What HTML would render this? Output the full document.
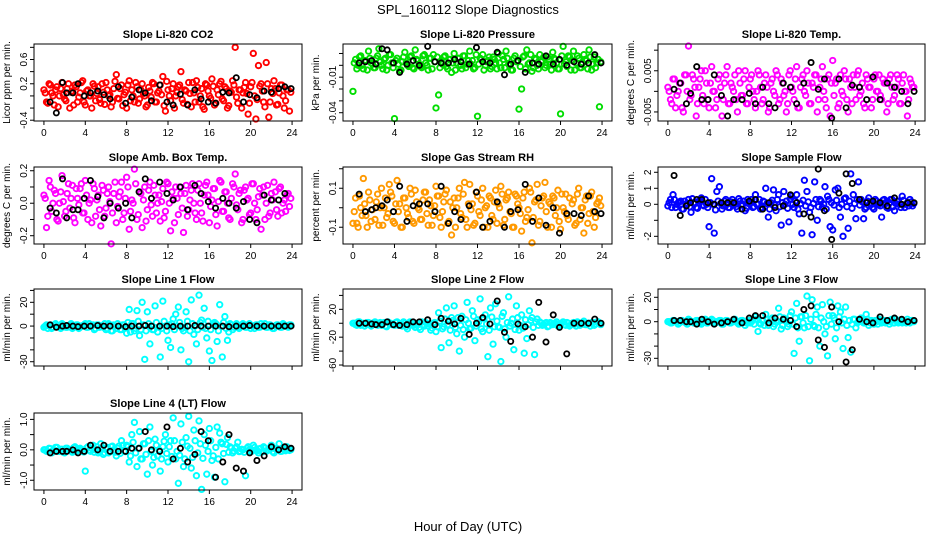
<!DOCTYPE html>
<html><head><meta charset="utf-8"><style>
html,body{margin:0;padding:0;background:#fff}
svg{display:block;font-family:"Liberation Sans",sans-serif}
</style></head><body>
<svg id="chart" width="936" height="540" viewBox="0 0 936 540">
<rect width="936" height="540" fill="#fff"/>
<text x="468" y="14" text-anchor="middle" font-size="13">SPL_160112  Slope Diagnostics</text>
<text x="468" y="531" text-anchor="middle" font-size="13">Hour of Day (UTC)</text>
</svg>
<script>
const hours=[0,0.25,0.5,0.75,1,1.25,1.5,1.75,2,2.25,2.5,2.75,3,3.25,3.5,3.75,4,4.25,4.5,4.75,5,5.25,5.5,5.75,6,6.25,6.5,6.75,7,7.25,7.5,7.75,8,8.25,8.5,8.75,9,9.25,9.5,9.75,10,10.25,10.5,10.75,11,11.25,11.5,11.75,12,12.25,12.5,12.75,13,13.25,13.5,13.75,14,14.25,14.5,14.75,15,15.25,15.5,15.75,16,16.25,16.5,16.75,17,17.25,17.5,17.75,18,18.25,18.5,18.75,19,19.25,19.5,19.75,20,20.25,20.5,20.75,21,21.25,21.5,21.75,22,22.25,22.5,22.75,23,23.25,23.5,23.75];
const hours2=[0.125,0.375,0.625,0.875,1.125,1.375,1.625,1.875,2.125,2.375,2.625,2.875,3.125,3.375,3.625,3.875,4.125,4.375,4.625,4.875,5.125,5.375,5.625,5.875,6.125,6.375,6.625,6.875,7.125,7.375,7.625,7.875,8.125,8.375,8.625,8.875,9.125,9.375,9.625,9.875,10.125,10.375,10.625,10.875,11.125,11.375,11.625,11.875,12.125,12.375,12.625,12.875,13.125,13.375,13.625,13.875,14.125,14.375,14.625,14.875,15.125,15.375,15.625,15.875,16.125,16.375,16.625,16.875,17.125,17.375,17.625,17.875,18.125,18.375,18.625,18.875,19.125,19.375,19.625,19.875,20.125,20.375,20.625,20.875,21.125,21.375,21.625,21.875,22.125,22.375,22.625,22.875,23.125,23.375,23.625,23.875];
const blackHours=[0.6,1.2,1.8,2.2,2.8,3.3,3.9,4.5,5.2,5.8,6.4,7.2,7.9,8.5,9.2,9.8,10.4,11.2,11.9,12.5,13.2,13.9,14.6,15.2,15.9,16.6,17.3,17.9,18.6,19.3,19.9,20.6,21.3,22.0,22.7,23.3,23.9];
const co2Vals=[0.1,-0.1,0.2,0.05,-0.15,0.15,0.0,0.22,-0.05,0.12,-0.2,0.08,0.18,-0.1,0.05,0.25,-0.15,0.1,0.0,0.2,-0.08,0.15,-0.12,0.06,0.22,0.0,-0.18,0.12,0.35,-0.05,0.18,0.02,-0.2,0.25,0.1,-0.1,0.15,-0.05,0.2,0.0,-0.15,0.08,0.22,-0.1,0.05,0.18,0.32,-0.25,0.1,-0.08,0.2,0.0,0.15,0.4,-0.12,0.08,0.22,-0.18,0.05,0.25,-0.1,0.12,-0.22,0.18,0.0,0.28,-0.15,0.1,0.2,-0.05,0.15,-0.2,0.08,0.25,0.8,-0.12,0.1,0.05,0.22,-0.3,0.15,0.7,-0.38,0.5,0.2,-0.1,0.55,-0.35,0.12,0.25,-0.15,0.05,0.18,-0.2,0.1,-0.25];
const co2Vals2=[0.05,-0.12,0.18,0.0,0.1,-0.18,0.12,0.02,-0.08,0.2,0.06,-0.15,0.15,-0.02,0.22,-0.1,0.08,0.0,-0.2,0.16,0.04,-0.06,0.2,-0.14,0.1,0.02,-0.1,0.24,-0.04,0.12,-0.16,0.06,0.18,-0.08,0.0,0.22,-0.12,0.1,0.04,-0.18,0.14,-0.02,0.2,-0.1,0.08,0.02,-0.16,0.24,0.0,0.12,-0.2,0.06,0.18,-0.06,0.1,-0.14,0.04,0.22,-0.1,0.14,0.0,-0.18,0.2,0.08,-0.04,0.16,-0.12,0.02,0.24,-0.08,0.12,-0.16,0.06,0.18,-0.02,0.1,-0.2,0.14,0.04,-0.12,0.22,0.0,-0.06,0.16,0.08,-0.18,0.2,-0.1,0.04,0.12,-0.14,0.18,0.0,-0.08,0.1,0.06];
const co2Black=[-0.1,-0.28,0.22,0.05,0.05,0.2,0.0,0.05,0.08,0.02,-0.05,0.15,-0.12,-0.02,0.1,0.05,-0.08,0.18,-0.1,-0.15,0.03,-0.15,0.1,-0.05,-0.1,-0.12,0.06,0.05,0.3,-0.1,0.02,-0.03,0.08,0.06,0.12,0.15,0.12];
const presVals=[-0.022,0.005,0.0,0.008,-0.003,0.004,0.012,0.002,-0.002,0.006,0.014,0.0,0.005,-0.004,0.009,0.002,-0.045,0.006,-0.005,0.003,0.011,0.0,0.007,-0.002,0.013,0.004,-0.001,0.008,0.002,-0.004,0.006,0.009,-0.036,-0.025,0.003,0.007,-0.001,0.005,-0.006,0.01,0.002,0.006,-0.003,0.008,0.001,0.012,0.004,-0.002,-0.043,0.006,0.009,0.0,0.004,-0.003,0.007,0.002,0.01,-0.002,0.005,0.012,0.001,-0.004,0.006,0.003,-0.037,-0.02,0.008,0.013,0.002,-0.005,0.006,0.0,0.009,0.004,-0.002,0.007,0.001,0.011,0.005,-0.003,-0.041,0.016,0.003,0.008,-0.004,0.012,0.002,0.006,-0.002,0.009,0.004,0.013,-0.004,0.007,0.002,-0.035];
const presVals2=[0.002,-0.003,0.007,0.0,0.004,-0.004,0.006,0.001,-0.002,0.008,0.003,-0.003,0.006,0.0,0.009,-0.002,0.004,0.001,-0.004,0.007,0.002,-0.001,0.008,-0.003,0.005,0.001,-0.002,0.009,0.0,0.006,-0.003,0.003,0.007,-0.002,0.001,0.008,-0.003,0.005,0.002,-0.004,0.006,0.0,0.008,-0.002,0.004,0.001,-0.003,0.009,0.001,0.005,-0.004,0.003,0.007,-0.001,0.005,-0.003,0.002,0.008,-0.002,0.006,0.0,-0.004,0.008,0.004,-0.001,0.007,-0.003,0.001,0.009,-0.002,0.005,-0.003,0.003,0.007,0.0,0.005,-0.004,0.006,0.002,-0.003,0.008,0.001,-0.001,0.007,0.004,-0.004,0.008,-0.002,0.002,0.005,-0.003,0.007,0.001,-0.002,0.005,0.003];
const presBlack=[0.002,0.003,0.004,0.001,0.014,0.013,0.002,-0.006,0.001,0.004,0.0,0.016,0.003,0.002,0.002,0.005,0.003,0.001,0.015,0.003,0.002,0.011,-0.008,0.001,0.004,-0.006,0.002,0.001,0.008,0.001,0.005,0.0,0.003,0.001,0.002,0.009,0.002];
const tempVals=[0.001,-0.002,0.003,-0.004,0.0,0.002,-0.005,0.004,0.011,-0.001,0.003,-0.006,0.001,0.005,-0.003,0.002,-0.004,0.006,0.0,-0.002,0.004,-0.006,0.002,0.006,-0.003,0.001,0.004,-0.005,0.002,-0.001,0.005,-0.003,0.003,0.0,-0.004,0.005,0.001,-0.002,0.004,-0.005,0.002,0.0,0.005,-0.003,0.003,-0.001,-0.005,0.004,0.001,-0.002,0.006,-0.004,0.003,0.0,0.005,-0.003,0.002,0.004,-0.005,0.001,0.006,-0.002,0.003,-0.006,0.0075,0.002,-0.004,0.004,-0.001,0.003,-0.005,0.001,0.004,-0.002,0.005,0.0,-0.003,0.004,0.001,-0.004,0.003,0.0,0.004,-0.002,0.002,-0.005,0.003,0.001,-0.001,0.004,-0.003,0.002,0.0,-0.006,0.003,0.001];
const tempVals2=[0.0,-0.003,0.003,-0.001,0.002,-0.004,0.004,0.0,-0.002,0.004,0.001,-0.003,0.003,-0.001,0.005,-0.002,0.002,0.0,-0.004,0.003,0.001,-0.002,0.004,-0.003,0.002,0.0,-0.002,0.005,-0.001,0.003,-0.003,0.001,0.004,-0.002,0.0,0.004,-0.003,0.002,0.001,-0.004,0.003,-0.001,0.004,-0.002,0.002,0.0,-0.003,0.005,0.0,0.003,-0.004,0.001,0.004,-0.001,0.002,-0.003,0.001,0.004,-0.002,0.003,0.0,-0.004,0.004,0.002,-0.001,0.003,-0.003,0.0,0.005,-0.002,0.003,-0.003,0.001,0.004,-0.001,0.002,-0.004,0.003,0.001,-0.002,0.004,0.0,-0.001,0.003,0.002,-0.003,0.004,-0.002,0.001,0.003,-0.003,0.004,0.0,-0.002,0.002,0.001];
const tempBlack=[0.0005,0.002,-0.003,-0.0005,0.006,-0.002,-0.002,0.004,-0.001,-0.006,-0.002,-0.002,-0.0005,-0.003,0.001,-0.003,-0.004,0.002,0.001,-0.003,0.002,0.007,0.0005,0.003,-0.0065,0.003,-0.004,0.0015,0.001,-0.002,0.0035,-0.002,0.002,0.001,0.0,-0.003,0.0];
const ambVals=[0.05,-0.15,0.14,-0.05,0.08,-0.1,0.0,0.17,-0.08,0.06,-0.03,0.11,-0.12,0.03,0.09,-0.06,0.14,-0.1,0.02,0.12,-0.08,0.05,-0.14,0.08,-0.03,0.1,-0.25,0.06,-0.12,0.04,0.13,-0.06,0.16,-0.16,0.02,0.21,-0.1,0.07,-0.15,0.1,-0.04,0.13,-0.08,0.05,0.0,-0.11,0.09,-0.05,0.12,-0.17,0.03,0.1,-0.07,0.06,-0.18,0.11,-0.04,0.08,0.0,-0.1,0.12,-0.06,0.05,0.13,-0.12,0.02,0.09,-0.14,0.14,-0.05,0.07,0.0,-0.1,0.12,0.18,-0.04,0.08,-0.1,0.1,0.03,-0.06,0.12,-0.1,0.04,-0.16,0.1,0.0,-0.08,0.06,0.13,-0.04,0.09,-0.06,0.02,0.05,-0.02];
const ambVals2=[0.03,-0.08,0.1,0.0,0.06,-0.11,0.07,0.01,-0.05,0.12,0.03,-0.09,0.09,-0.01,0.12,-0.06,0.05,0.0,-0.12,0.09,0.02,-0.04,0.11,-0.08,0.06,0.01,-0.06,0.13,-0.02,0.07,-0.1,0.03,0.1,-0.05,0.0,0.12,-0.07,0.06,0.02,-0.11,0.08,-0.01,0.11,-0.06,0.05,0.01,-0.09,0.13,0.0,0.07,-0.12,0.03,0.1,-0.03,0.06,-0.08,0.02,0.12,-0.06,0.08,0.0,-0.11,0.11,0.05,-0.02,0.09,-0.07,0.01,0.13,-0.05,0.07,-0.09,0.03,0.1,-0.01,0.06,-0.12,0.08,0.02,-0.07,0.12,0.0,-0.04,0.09,0.05,-0.1,0.11,-0.06,0.02,0.07,-0.08,0.1,0.0,-0.05,0.06,0.03];
const ambBlack=[-0.03,-0.06,0.15,-0.09,-0.04,-0.04,0.03,0.14,0.04,-0.09,0.0,-0.03,0.0,-0.09,0.07,0.15,0.03,0.13,0.06,0.02,0.1,-0.04,0.11,0.06,0.01,-0.03,0.03,0.0,-0.03,0.01,-0.1,-0.12,0.05,0.02,0.02,0.06,-0.27];
const rhVals=[-0.08,0.05,-0.1,0.0,0.15,-0.04,0.08,-0.07,-0.19,0.03,-0.09,0.1,0.0,-0.05,0.12,0.06,-0.08,0.14,0.02,-0.1,0.05,-0.03,0.1,-0.07,0.09,0.0,-0.06,0.04,0.08,-0.09,0.01,-0.04,0.11,0.06,-0.1,0.03,0.09,-0.07,-0.14,0.05,0.0,0.1,-0.05,0.13,-0.1,0.12,0.02,-0.08,0.06,-0.04,0.1,0.0,-0.1,0.05,-0.06,0.09,0.02,0.11,-0.09,0.04,0.08,-0.03,-0.1,0.06,0.0,-0.12,0.08,-0.05,0.1,-0.18,0.03,0.12,-0.07,0.05,0.13,-0.1,0.02,0.06,-0.04,0.09,-0.11,0.0,0.07,-0.06,0.21,0.04,-0.08,0.1,0.0,-0.13,0.06,-0.03,0.08,-0.1,0.02,0.05];
const rhVals2=[-0.02,-0.08,0.06,-0.04,0.02,-0.1,0.04,-0.01,-0.06,0.07,0.0,-0.09,0.05,-0.03,0.08,-0.07,0.02,-0.02,-0.1,0.05,0.0,-0.05,0.07,-0.08,0.03,-0.01,-0.06,0.08,-0.03,0.04,-0.09,0.01,0.06,-0.05,-0.02,0.07,-0.08,0.03,0.0,-0.1,0.05,-0.03,0.07,-0.06,0.02,-0.01,-0.09,0.08,-0.02,0.04,-0.1,0.01,0.06,-0.04,0.03,-0.08,0.0,0.07,-0.06,0.05,-0.02,-0.1,0.07,0.02,-0.03,0.05,-0.07,-0.01,0.08,-0.05,0.04,-0.09,0.01,0.06,-0.02,0.03,-0.1,0.05,0.0,-0.07,0.07,-0.02,-0.04,0.05,0.02,-0.09,0.07,-0.06,0.0,0.04,-0.08,0.06,-0.02,-0.05,0.03,0.01];
const rhBlack=[0.07,-0.02,-0.01,0.0,0.01,0.04,-0.02,0.11,-0.07,0.01,0.02,0.02,-0.02,0.11,-0.08,-0.02,-0.06,0.01,0.08,-0.1,-0.07,0.03,-0.1,-0.02,-0.01,0.12,-0.07,0.05,-0.09,0.0,-0.13,-0.03,-0.03,-0.04,0.06,-0.02,-0.03];
const sampleVals=[-0.1,0.3,0.6,-0.2,0.1,0.2,-0.3,0.0,0.3,-0.5,0.1,-0.2,0.2,0.4,-0.1,0.0,-1.4,1.6,-1.8,0.8,1.1,-0.3,0.2,0.0,-0.2,0.3,0.1,-0.3,0.2,0.0,-0.4,0.3,0.1,-0.2,0.6,0.0,-0.3,0.2,1.0,-0.8,0.1,0.9,-0.4,0.6,-1.3,0.8,0.2,-1.1,0.5,-0.2,0.6,-0.6,-1.8,1.5,0.8,-0.5,-1.9,1.4,-1.0,0.3,-0.2,1.1,0.5,-1.4,-1.6,0.9,1.0,-0.8,-2.0,0.4,-1.5,1.9,0.6,-0.9,1.4,0.3,-0.9,-0.2,0.4,0.1,-0.3,0.2,0.0,-0.8,0.3,-0.2,0.1,0.3,-0.4,0.2,0.0,0.5,-0.2,0.1,0.3,-0.1];
const sampleVals2=[0.1,-0.2,0.3,0.0,0.15,-0.3,0.2,0.05,-0.15,0.35,0.1,-0.25,0.25,-0.05,0.3,-0.2,0.1,0.0,-0.35,0.2,0.05,-0.1,0.3,-0.2,0.15,0.0,-0.15,0.35,-0.05,0.2,-0.25,0.05,0.3,-0.15,0.0,0.3,-0.2,0.15,0.05,-0.3,0.25,-0.05,0.3,-0.15,0.1,0.0,-0.25,0.35,0.0,0.2,-0.3,0.05,0.25,-0.1,0.15,-0.2,0.05,0.3,-0.15,0.2,0.0,-0.3,0.3,0.1,-0.05,0.25,-0.2,0.0,0.35,-0.15,0.2,-0.25,0.05,0.3,-0.05,0.15,-0.3,0.2,0.05,-0.2,0.3,0.0,-0.1,0.25,0.1,-0.25,0.3,-0.15,0.05,0.2,-0.2,0.25,0.0,-0.1,0.15,0.05];
const sampleBlack=[1.8,-0.7,-0.1,0.1,0.3,0.3,0.1,0.0,0.1,0.1,0.1,-0.3,0.2,0.3,-0.3,0.1,-0.2,-0.1,0.6,0.1,-0.6,-0.8,2.2,-0.4,-2.2,0.7,1.9,1.3,0.3,0.1,0.2,0.1,-0.1,0.4,0.0,0.1,0.1];
const line1Vals=[-1,1,0,-2,1,0,-1,2,0,-1,1,-2,0,1,-1,0,2,-1,0,1,-2,1,0,-1,-3,2,-4,1,-2,0,-3,1,-6,14,2,-4,13,-8,20,-28,12,-15,-3,17,-5,-26,21,0,-12,-18,6,10,16,-20,-4,12,-30,22,-7,-15,26,5,15,-10,-21,-29,3,-13,18,-26,8,-12,2,-3,1,-1,0,2,-1,1,-2,0,1,-1,2,0,-1,1,0,-2,1,0,-1,1,0,1];
const line1Vals2=[0,-2,1,-1,2,0,-2,1,-1,0,2,-1,1,-2,0,1,-1,2,0,-3,1,-1,0,2,-2,1,-4,0,2,-3,1,-1,3,-5,2,-2,4,-3,1,-4,2,0,-3,3,-1,-2,4,-4,1,2,-3,0,3,-2,-1,4,-4,2,0,-3,3,-1,-2,4,-3,1,2,-4,0,3,-2,-5,1,-1,2,-2,0,1,-1,2,0,-2,1,-1,0,2,-1,1,-2,0,1,-1,2,0,-1,1];
const line1Black=[1,-1,0,0.5,0,-0.5,0,0,0.5,0,0,0,-0.5,0,0,0.5,0,0,0,-0.5,0,0,0.5,0,0,0,0,-0.5,0,0,0.5,0,0,0,0,0,0];
const line2Vals=[0,-2,2,-3,0,-1,1,-4,0,-2,-1,-3,1,-5,0,-2,-3,2,-1,-4,0,-8,2,-3,-6,0,-9,-2,1,-4,-10,0,-12,15,-35,-5,22,-28,8,25,-15,-40,10,-20,30,-8,18,-25,5,35,-12,12,-48,22,-30,28,-5,-55,15,-20,38,0,-38,25,-10,12,-43,-22,18,8,-45,6,2,-3,0,-5,1,-2,0,-4,-1,2,-3,0,-2,1,-4,0,-1,3,-2,0,1,-3,2,-1];
const line2Vals2=[0,-3,2,-1,-4,1,-2,0,2,-3,1,-1,-4,2,0,-2,1,-3,-1,2,-5,0,1,-3,-2,-6,2,-4,0,-1,-7,1,-5,3,-8,6,-2,-10,4,-6,8,-3,-9,5,0,-7,10,-4,2,-8,7,-1,-10,9,-5,3,-6,10,-8,1,-4,6,-9,8,-3,-7,5,-2,4,-6,2,-3,0,-2,1,-4,0,-1,2,-3,0,-2,1,-4,0,-1,2,-3,1,-2,0,-4,1,-1,2,-2];
const line2Black=[0,0,-1,-2,-2,2,-2,-3,-2,2,2,5,-2,7,3,-1,7,-16,0,8,-1,32,-13,-26,-1,-5,-20,30,-27,12,-6,-44,0,0,0,6,0];
const line3Vals=[0,-1,1,0,-2,1,0,-1,2,0,-1,1,0,-2,1,-1,0,2,-1,0,1,-2,0,1,-1,0,2,-1,0,1,-3,0,-1,2,4,-8,-2,1,6,-3,2,-4,0,11,-6,3,0,-2,8,-26,15,-16,4,-5,21,-32,18,-4,12,-20,14,-10,-28,16,5,-14,13,8,-22,12,-13,-25,2,-5,0,3,-1,6,-3,1,-2,0,2,-1,1,0,-2,2,-1,0,1,-1,0,2,-1,1];
const line3Vals2=[0,-1,1,0,-1,1,0,-2,1,0,-1,1,-1,0,2,-1,0,1,-1,0,1,-2,1,0,-1,1,0,-2,1,0,-1,1,0,-2,2,-1,1,-3,2,-1,3,-2,0,4,-3,2,-4,5,-2,3,-5,4,-1,5,-4,2,-3,6,-5,3,0,-4,5,-2,3,-5,4,-1,2,-3,1,-2,2,-1,1,0,-1,2,-1,0,1,-2,1,0,-1,1,0,-1,2,-1,0,1,-1,0,1,0];
const line3Black=[1,1,0,0,-2,2,0,-2,-1,0,2,-1,3,5,5,-1,3,2,1,-4,10,13,-15,-21,12,0,-33,-23,2,0,-1,4,1,3,2,0,1];
const line4Vals=[0,-0.05,0.05,-0.1,0.0,0.08,-0.05,0.02,-0.1,0.05,0.0,-0.08,0.1,-0.02,0.05,-0.06,-0.7,0.1,-0.05,0.15,0.0,-0.1,0.2,-0.15,0.05,-0.1,0.1,0.0,-0.2,0.12,0.3,-0.05,0.15,-0.4,0.5,0.9,-0.55,0.6,-0.3,0.2,-0.8,0.75,-0.5,0.35,-0.2,-0.7,0.1,0.5,-0.4,0.3,1.05,-0.3,-1.1,0.85,-0.55,0.4,1.1,-0.6,0.65,-0.85,0.95,-1.3,0.5,-0.8,0.7,-0.35,-0.9,0.75,0.55,0.2,-1.05,0.4,0.1,-0.1,0.05,0.25,-0.05,0.0,-0.85,0.1,-0.05,0.15,0.0,-0.1,0.05,0.1,-0.05,0.0,0.15,-0.1,0.05,0.2,-0.05,0.0,0.1,-0.02];
const line4Vals2=[0,-0.06,0.04,-0.02,0.08,-0.05,0.02,-0.08,0.05,0.0,-0.04,0.07,-0.06,0.03,0.0,-0.07,0.06,-0.02,0.04,-0.08,0.1,-0.05,0.02,-0.1,0.08,-0.04,0.12,-0.08,0.05,-0.12,0.15,-0.06,0.1,-0.2,0.25,-0.1,0.05,-0.3,0.2,-0.15,0.3,-0.05,-0.25,0.15,0.0,-0.3,0.28,-0.12,0.1,-0.22,0.3,-0.05,-0.18,0.25,-0.3,0.12,0.05,-0.25,0.3,-0.1,0.2,-0.28,0.15,-0.05,0.3,-0.2,0.08,-0.3,0.25,-0.12,0.18,-0.08,0.06,-0.04,0.1,-0.06,0.02,-0.08,0.05,0.0,-0.05,0.08,-0.03,0.04,-0.07,0.06,-0.02,0.05,-0.06,0.03,0.0,-0.05,0.07,-0.03,0.02,0.0];
const line4Black=[-0.1,-0.05,-0.05,-0.05,0.0,-0.1,-0.05,0.15,0.0,0.15,-0.05,-0.05,-0.05,0.05,0.05,0.6,0.0,-0.05,0.75,-0.3,0.05,-0.4,-0.15,0.6,0.3,-0.9,-0.4,0.5,-0.6,-0.7,-0.1,-0.35,-0.2,0.1,0.0,0.1,0.05];
const xTicks=[0,4,8,12,16,20,24];
const panelTitles=["Slope Li-820 CO2","Slope Li-820 Pressure","Slope Li-820 Temp.","Slope Amb. Box Temp.","Slope Gas Stream RH","Slope Sample Flow","Slope Line 1 Flow","Slope Line 2 Flow","Slope Line 3 Flow","Slope Line 4 (LT) Flow"];
const yTitles=["Licor ppm per min.","kPa per min.","degrees C per min.","degrees C per min.","percent per min.","ml/min per min.","ml/min per min.","ml/min per min.","ml/min per min.","ml/min per min."];
const yRanges=[[-0.413,0.855],[-0.047,0.018],[-0.0072,0.0115],[-0.251,0.223],[-0.186,0.209],[-2.48,2.33],[-33.6,31.2],[-61.4,49.2],[-36.3,26.8],[-1.32,1.21]];
const yTickVals=[[-0.4,-0.2,0,0.2,0.4,0.6,0.8],[-0.04,-0.03,-0.02,-0.01,0,0.01],[-0.005,0,0.005,0.01],[-0.2,-0.1,0,0.1,0.2],[-0.1,0,0.1,0.2],[-2,-1,0,1,2],[-30,-20,-10,0,10,20,30],[-60,-40,-20,0,20,40],[-30,-20,-10,0,10,20],[-1,-0.5,0,0.5,1]];
const yTickLabels=[["-0.4","","","0.2","","0.6",""],["-0.04","","","-0.01","",""],["-0.005","","0.005",""],["-0.2","","0.0","","0.2"],["-0.1","","0.1",""],["-2","","0","1","2"],["-30","","","0","","20",""],["-60","","-20","","20",""],["-30","","","0","","20"],["-1.0","","0.0","","1.0"]];
const colors=["#ff0000","#00dd00","#ff00ff","#ff00ff","#ff9900","#0000ff","#00ffff","#00ffff","#00ffff","#00ffff"];
const series=[co2Vals,presVals,tempVals,ambVals,rhVals,sampleVals,line1Vals,line2Vals,line3Vals,line4Vals];
const series2=[co2Vals2,presVals2,tempVals2,ambVals2,rhVals2,sampleVals2,line1Vals2,line2Vals2,line3Vals2,line4Vals2];
const blacks=[co2Black,presBlack,tempBlack,ambBlack,rhBlack,sampleBlack,line1Black,line2Black,line3Black,line4Black];
const colLeft=[34,343,658], colW=[268,269,267], rowTop=[44,167,289,413], plotH=77;
const showXLabels=[true,true,false,true];
const NS="http://www.w3.org/2000/svg";
const svg=document.getElementById('chart');
function mk(tag,attrs,parent){const e=document.createElementNS(NS,tag);for(const k in attrs)e.setAttribute(k,attrs[k]);(parent||svg).appendChild(e);return e;}
for(let p=0;p<10;p++){
  const r=Math.floor(p/3), c=p%3;
  const L=colLeft[c], W=colW[c], T=rowTop[r], H=plotH;
  const g=mk('g',{});
  
  
  const xs=v=>L+(v+0.96)/25.92*W;
  const [y0,y1]=yRanges[p];
  const ys=v=>T+H-(v-y0)/(y1-y0)*H;
  const t=mk('text',{x:L+W/2,y:T-6,'text-anchor':'middle','font-size':'11','font-weight':'bold'},g);
  t.textContent=panelTitles[p];
  
  
  const yt=mk('text',{x:0,y:0,'text-anchor':'middle','font-size':'10',transform:`translate(${L-24},${T+H/2}) rotate(-90)`},g);
  yt.textContent=yTitles[p];
  
  
  const sets=[[hours,series[p]],[hours2,series2[p]]];
  sets.forEach(([hx,vals])=>{
    const n=Math.min(vals.length,hx.length);
    for(let i=0;i<n;i++){
      const v=vals[i]; if(v<y0||v>y1) continue;
      const ci=mk('circle',{cx:xs(hx[i]),cy:ys(v),r:2.7,fill:'none',stroke:colors[p],'stroke-width':1.9},g);
      
      
    }
  });
  const bv=blacks[p], bn=Math.min(bv.length,blackHours.length);
  for(let i=0;i<bn;i++){
    const v=bv[i]; if(v<y0||v>y1) continue;
    const ci=mk('circle',{cx:xs(blackHours[i]),cy:ys(v),r:2.6,fill:'none',stroke:'#000','stroke-width':1.8},g);
    
    
  }
  const box=mk('rect',{x:L,y:T,width:W,height:H,fill:'none',stroke:'#000','stroke-width':1},g);
  
  
  xTicks.forEach(v=>{
    const x=xs(v);
    mk('line',{x1:x,x2:x,y1:T+H,y2:T+H+4,stroke:'#000'},g);
    if(showXLabels[r]){
      const tl=mk('text',{x:x,y:T+H+15,'text-anchor':'middle','font-size':'10'},g);
      tl.textContent=String(v);
      
      
    }
  });
  yTickVals[p].forEach((v,k)=>{
    if(v<y0||v>y1) return;
    const y=ys(v);
    mk('line',{x1:L-4,x2:L,y1:y,y2:y,stroke:'#000'},g);
    const lab=yTickLabels[p][k];
    if(lab){
      const tl=mk('text',{x:0,y:0,'text-anchor':'middle','font-size':'10',transform:`translate(${L-7},${y}) rotate(-90)`},g);
      tl.textContent=lab;
      
      
    }
  });
}
</script>
</body></html>
